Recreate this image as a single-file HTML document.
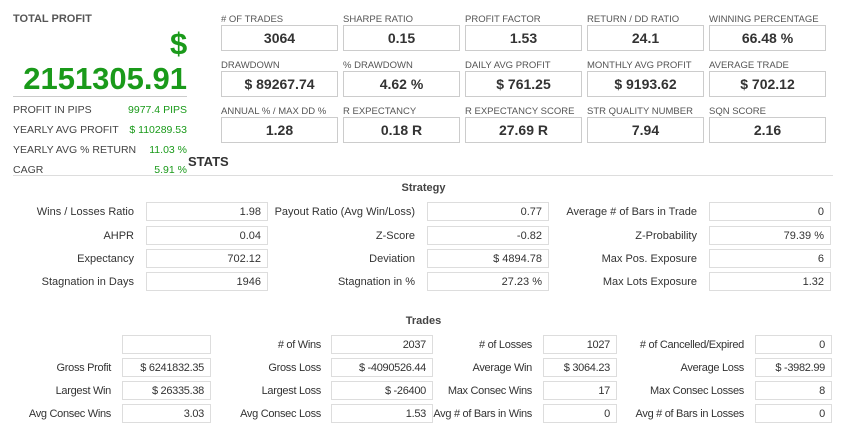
<!DOCTYPE html>
<html><head><meta charset="utf-8"><style>
body{margin:0;width:847px;height:436px;background:#fff;position:relative;overflow:hidden;font-family:"Liberation Sans",Arial,sans-serif;color:#333}
.a{position:absolute;white-space:nowrap}
.tl{font-size:9.5px;color:#555}
.tb{position:absolute;width:115px;height:24px;border:1px solid #ccc;text-align:center;line-height:24px;font-size:14px;font-weight:bold;color:#333}
.lrow{font-size:10.5px;color:#444}
.g{color:#1a9a1a}
.lab{position:absolute;text-align:right;font-size:11px;color:#333;white-space:nowrap}
.bx{position:absolute;height:19px;border:1px solid #ddd;text-align:right;font-size:11px;line-height:19px;padding-right:6px;box-sizing:border-box;color:#333;white-space:nowrap}
.n{font-size:11px;letter-spacing:-0.3px}
</style></head><body>
<div class="a" style="left:13px;top:13px;font-size:11px;font-weight:bold;color:#555">TOTAL PROFIT</div>
<div class="a g" style="left:170px;top:26px;font-size:31px;font-weight:bold">$</div>
<div class="a g" style="right:660px;top:61px;font-size:31px;font-weight:bold">2151305.91</div>
<div class="a" style="left:13px;top:96px;width:174px;border-top:1px solid #ccc"></div>
<div class="a lrow" style="left:13px;top:104px">PROFIT IN PIPS</div><div class="a lrow g" style="right:660px;top:104px">9977.4 PIPS</div>
<div class="a lrow" style="left:13px;top:124px">YEARLY AVG PROFIT</div><div class="a lrow g" style="right:660px;top:124px">$ 110289.53</div>
<div class="a lrow" style="left:13px;top:144px">YEARLY AVG % RETURN</div><div class="a lrow g" style="right:660px;top:144px">11.03 %</div>
<div class="a lrow" style="left:13px;top:164px">CAGR</div><div class="a lrow g" style="right:660px;top:164px">5.91 %</div>
<div class="a" style="left:188px;top:154px;font-size:13px;font-weight:bold;color:#333">STATS</div>
<div class="a" style="left:13px;top:175px;width:820px;border-top:1px solid #ddd"></div>

<div class="a tl" style="left:221px;top:14px">#  OF TRADES</div><div class="tb" style="left:221px;top:25px">3064</div>
<div class="a tl" style="left:343px;top:14px">SHARPE RATIO</div><div class="tb" style="left:343px;top:25px">0.15</div>
<div class="a tl" style="left:465px;top:14px">PROFIT FACTOR</div><div class="tb" style="left:465px;top:25px">1.53</div>
<div class="a tl" style="left:587px;top:14px">RETURN / DD RATIO</div><div class="tb" style="left:587px;top:25px">24.1</div>
<div class="a tl" style="left:709px;top:14px">WINNING PERCENTAGE</div><div class="tb" style="left:709px;top:25px">66.48 %</div>

<div class="a tl" style="left:221px;top:60px">DRAWDOWN</div><div class="tb" style="left:221px;top:71px">$ 89267.74</div>
<div class="a tl" style="left:343px;top:60px">% DRAWDOWN</div><div class="tb" style="left:343px;top:71px">4.62 %</div>
<div class="a tl" style="left:465px;top:60px">DAILY AVG PROFIT</div><div class="tb" style="left:465px;top:71px">$ 761.25</div>
<div class="a tl" style="left:587px;top:60px">MONTHLY AVG PROFIT</div><div class="tb" style="left:587px;top:71px">$ 9193.62</div>
<div class="a tl" style="left:709px;top:60px">AVERAGE TRADE</div><div class="tb" style="left:709px;top:71px">$ 702.12</div>

<div class="a tl" style="left:221px;top:106px">ANNUAL % / MAX DD %</div><div class="tb" style="left:221px;top:117px">1.28</div>
<div class="a tl" style="left:343px;top:106px">R EXPECTANCY</div><div class="tb" style="left:343px;top:117px">0.18 R</div>
<div class="a tl" style="left:465px;top:106px">R EXPECTANCY SCORE</div><div class="tb" style="left:465px;top:117px">27.69 R</div>
<div class="a tl" style="left:587px;top:106px">STR QUALITY NUMBER</div><div class="tb" style="left:587px;top:117px">7.94</div>
<div class="a tl" style="left:709px;top:106px">SQN SCORE</div><div class="tb" style="left:709px;top:117px">2.16</div>

<div class="a" style="left:0;width:847px;text-align:center;top:182px;font-size:11px;font-weight:bold;color:#444">Strategy</div>
<div class="lab" style="right:713px;top:206px">Wins / Losses Ratio</div><div class="bx" style="left:146px;top:202px;width:122px">1.98</div>
<div class="lab" style="right:432px;top:206px">Payout Ratio (Avg Win/Loss)</div><div class="bx" style="left:427px;top:202px;width:122px">0.77</div>
<div class="lab" style="right:150px;top:206px">Average # of Bars in Trade</div><div class="bx" style="left:709px;top:202px;width:122px">0</div>
<div class="lab" style="right:713px;top:230px">AHPR</div><div class="bx" style="left:146px;top:226px;width:122px">0.04</div>
<div class="lab" style="right:432px;top:230px">Z-Score</div><div class="bx" style="left:427px;top:226px;width:122px">-0.82</div>
<div class="lab" style="right:150px;top:230px">Z-Probability</div><div class="bx" style="left:709px;top:226px;width:122px">79.39 %</div>
<div class="lab" style="right:713px;top:253px">Expectancy</div><div class="bx" style="left:146px;top:249px;width:122px">702.12</div>
<div class="lab" style="right:432px;top:253px">Deviation</div><div class="bx" style="left:427px;top:249px;width:122px">$ 4894.78</div>
<div class="lab" style="right:150px;top:253px">Max Pos. Exposure</div><div class="bx" style="left:709px;top:249px;width:122px">6</div>
<div class="lab" style="right:713px;top:276px">Stagnation in Days</div><div class="bx" style="left:146px;top:272px;width:122px">1946</div>
<div class="lab" style="right:432px;top:276px">Stagnation in %</div><div class="bx" style="left:427px;top:272px;width:122px">27.23 %</div>
<div class="lab" style="right:150px;top:276px">Max Lots Exposure</div><div class="bx" style="left:709px;top:272px;width:122px">1.32</div>

<div class="a" style="left:0;width:847px;text-align:center;top:315px;font-size:11px;font-weight:bold;color:#444">Trades</div>
<div class="bx n" style="left:122px;top:335px;width:89px"></div>
<div class="lab n" style="right:526px;top:339px">#  of Wins</div><div class="bx n" style="left:331px;top:335px;width:102px">2037</div>
<div class="lab n" style="right:315px;top:339px">#  of Losses</div><div class="bx n" style="left:543px;top:335px;width:74px">1027</div>
<div class="lab n" style="right:103px;top:339px">#  of Cancelled/Expired</div><div class="bx n" style="left:755px;top:335px;width:77px">0</div>

<div class="lab n" style="right:736px;top:362px">Gross Profit</div><div class="bx n" style="left:122px;top:358px;width:89px">$ 6241832.35</div>
<div class="lab n" style="right:526px;top:362px">Gross Loss</div><div class="bx n" style="left:331px;top:358px;width:102px">$ -4090526.44</div>
<div class="lab n" style="right:315px;top:362px">Average Win</div><div class="bx n" style="left:543px;top:358px;width:74px">$ 3064.23</div>
<div class="lab n" style="right:103px;top:362px">Average Loss</div><div class="bx n" style="left:755px;top:358px;width:77px">$ -3982.99</div>

<div class="lab n" style="right:736px;top:385px">Largest Win</div><div class="bx n" style="left:122px;top:381px;width:89px">$ 26335.38</div>
<div class="lab n" style="right:526px;top:385px">Largest Loss</div><div class="bx n" style="left:331px;top:381px;width:102px">$ -26400</div>
<div class="lab n" style="right:315px;top:385px">Max Consec Wins</div><div class="bx n" style="left:543px;top:381px;width:74px">17</div>
<div class="lab n" style="right:103px;top:385px">Max Consec Losses</div><div class="bx n" style="left:755px;top:381px;width:77px">8</div>

<div class="lab n" style="right:736px;top:408px">Avg Consec Wins</div><div class="bx n" style="left:122px;top:404px;width:89px">3.03</div>
<div class="lab n" style="right:526px;top:408px">Avg Consec Loss</div><div class="bx n" style="left:331px;top:404px;width:102px">1.53</div>
<div class="lab n" style="right:315px;top:408px">Avg #  of Bars in Wins</div><div class="bx n" style="left:543px;top:404px;width:74px">0</div>
<div class="lab n" style="right:103px;top:408px">Avg #  of Bars in Losses</div><div class="bx n" style="left:755px;top:404px;width:77px">0</div>
</body></html>
